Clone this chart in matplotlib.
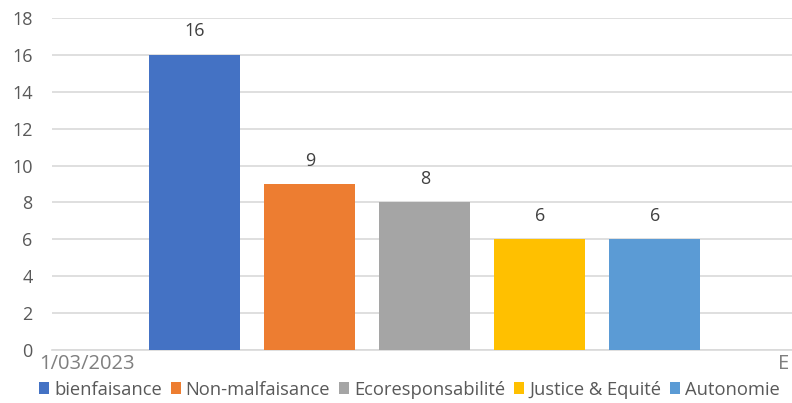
import numpy as np
import matplotlib.pyplot as plt

# données
series = ['bienfaisance', 'Non-malfaisance', 'Ecoresponsabilité', 'Justice & Equité', 'Autonomie']
values = [16, 9, 8, 6, 6]
colors = ['#4472C4', '#ED7D31', '#A5A5A5', '#FFC000', '#5B9BD5']
category = '1/03/2023'
yticks = [0, 2, 4, 6, 8, 10, 12, 14, 16, 18]

plt.rcParams['font.family'] = ['Open Sans', 'DejaVu Sans']

fig = plt.figure(figsize=(7.92, 4.03), dpi=100)
ax = fig.add_axes([52 / 792, 1 - 350 / 403, 740 / 792, 332 / 403])

step = 115 / 740
width = 91 / 740
offsets = (np.arange(len(series)) - 2) * step + 0.004
for off, v, c, name in zip(offsets, values, colors, series):
    ax.bar(off, v, width=width, color=c, label=name, zorder=3)
    ax.text(off, v + 1.0, str(v), ha='center', va='baseline', fontsize=13, color='#404040')

ax.set_xlim(-0.5, 0.5)
ax.set_ylim(0, 18)
ax.set_yticks(yticks)
ax.set_xticks([])
ax.grid(axis='y', color='#d9d9d9', linewidth=1.2, zorder=0)
for s in ['top', 'right', 'left']:
    ax.spines[s].set_visible(False)
ax.spines['bottom'].set_color('#d9d9d9')
ax.spines['bottom'].set_linewidth(1.2)
ax.tick_params(axis='y', length=0, labelsize=13, labelcolor='#595959', pad=14)

ax.text(-0.517, -0.2, category, ha='left', va='top', fontsize=14.5, color='#7f7f7f', clip_on=False)
ax.text(0.481, -0.2, 'E', ha='left', va='top', fontsize=14.5, color='#7f7f7f', clip_on=False)

fig.legend(loc='lower center', bbox_to_anchor=(0.517, -0.03), ncol=5, frameon=False,
           fontsize=13.2, handlelength=0.55, handleheight=0.65, handletextpad=0.25,
           columnspacing=0.5, labelcolor='#595959')

fig.savefig('out.png', dpi=100)
